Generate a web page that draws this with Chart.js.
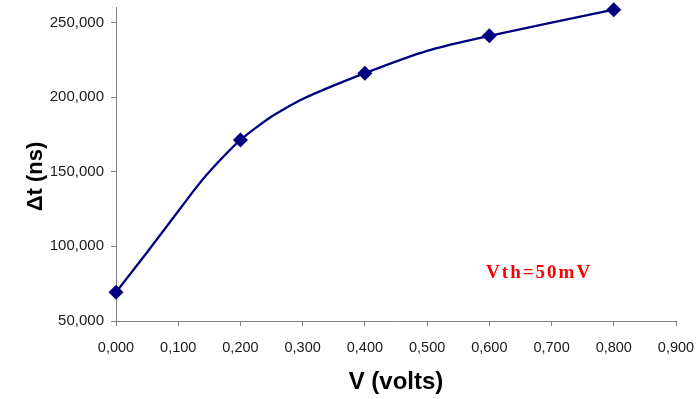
<!DOCTYPE html>
<html>
<head>
<meta charset="utf-8">
<script src="https://cdn.jsdelivr.net/npm/chart.js@4/dist/chart.umd.min.js"></script>
<style>
  html, body { margin: 0; padding: 0; background: #fff; }
  #wrap { width: 697px; height: 399px; }
</style>
</head>
<body>
<div id="wrap"><canvas id="c" width="697" height="399"></canvas></div>
<script>
// Smoothed curve points
const curveV  = [0.000, 0.050, 0.125, 0.150, 0.200, 0.250, 0.300, 0.400, 0.500, 0.600, 0.800];
const curveDt = [69300, 96000, 137300, 150000, 171300, 187000, 198700, 216000, 231000, 241000, 258500];
// Marked measurement points
const markV  = [0.000, 0.200, 0.400, 0.600, 0.800];
const markDt = [69300, 171300, 216000, 241000, 258500];
// Axis ticks
const yTicks = [50000, 100000, 150000, 200000, 250000];
const xTicks = [0, 0.1, 0.2, 0.3, 0.4, 0.5, 0.6, 0.7, 0.8, 0.9];
const xTitle = 'V (volts)';
const yTitle = 'Δt (ns)    ';
const noteText = 'Vth=50mV';
const noteAt = { x: 0.680, y: 82000 };

const navy = '#000080';

const notePlugin = {
  id: 'note',
  afterDraw(chart) {
    const ctx = chart.ctx;
    const x = chart.scales.x.getPixelForValue(noteAt.x);
    const y = chart.scales.y.getPixelForValue(noteAt.y);
    ctx.save();
    ctx.font = 'bold 19px "Liberation Serif", "Times New Roman", serif';
    ctx.fillStyle = '#ff0000';
    ctx.textAlign = 'center';
    ctx.textBaseline = 'middle';
    if ('letterSpacing' in ctx) ctx.letterSpacing = '2px';
    ctx.fillText(noteText, x, y);
    ctx.restore();
  }
};

new Chart(document.getElementById('c'), {
  type: 'scatter',
  data: {
    datasets: [
      {
        data: curveV.map((v, i) => ({ x: v, y: curveDt[i] })),
        showLine: true,
        borderColor: navy,
        borderWidth: 2.3,
        pointRadius: 0,
        tension: 0.2,
        clip: false
      },
      {
        data: markV.map((v, i) => ({ x: v, y: markDt[i] })),
        showLine: false,
        pointStyle: 'rectRot',
        pointRadius: 7.5,
        backgroundColor: navy,
        borderColor: navy,
        borderWidth: 0,
        clip: false
      }
    ]
  },
  options: {
    responsive: false,
    animation: false,
    layout: { padding: { left: 0, right: 21, top: 6, bottom: 0 } },
    plugins: { legend: { display: false }, tooltip: { enabled: false } },
    scales: {
      x: {
        type: 'linear',
        min: 0, max: 0.9,
        afterBuildTicks(s) { s.ticks = xTicks.map(v => ({ value: v })); },
        afterFit(s) { s.height = 78; s.paddingLeft = 0; s.paddingRight = 0; },
        border: { display: true, color: '#808080', width: 1 },
        grid: { drawOnChartArea: false, drawTicks: true, tickLength: 5, color: '#808080' },
        ticks: {
          color: '#1a1a1a',
          font: { family: '"Liberation Sans", Arial, sans-serif', size: 14.5 },
          padding: 13,
          maxRotation: 0,
          autoSkip: false,
          callback: v => v.toFixed(3).replace('.', ',')
        },
        title: {
          display: true, text: xTitle, color: '#000',
          font: { family: '"Liberation Sans", Arial, sans-serif', size: 24, weight: 'bold' },
          padding: { top: 0, bottom: 2 }
        }
      },
      y: {
        type: 'linear',
        min: 50000, max: 260000,
        afterBuildTicks(s) { s.ticks = yTicks.map(v => ({ value: v })); },
        afterFit(s) { s.width = 116; s.paddingTop = 0; s.paddingBottom = 0; },
        border: { display: true, color: '#808080', width: 1 },
        grid: { drawOnChartArea: false, drawTicks: true, tickLength: 5, color: '#808080' },
        ticks: {
          color: '#1a1a1a',
          font: { family: '"Liberation Sans", Arial, sans-serif', size: 15 },
          padding: 7,
          callback: v => v.toLocaleString('en-US')
        },
        title: {
          display: true, text: yTitle, color: '#000',
          font: { family: '"Liberation Sans", Arial, sans-serif', size: 22, weight: 'bold' },
          padding: { top: 23, bottom: 0 }
        }
      }
    }
  },
  plugins: [notePlugin]
});
</script>
</body>
</html>
